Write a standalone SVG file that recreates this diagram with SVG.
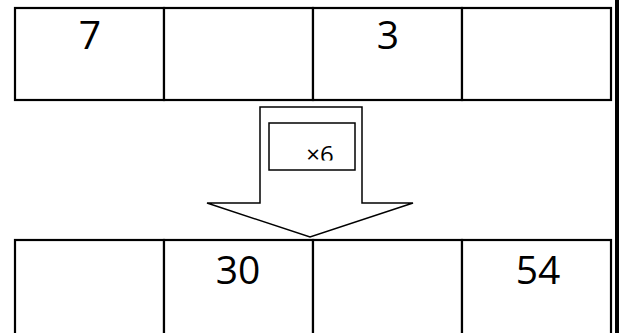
<svg xmlns="http://www.w3.org/2000/svg" width="619" height="333" viewBox="0 0 619 333">
<defs>
<style>
.cell{fill:#fff;stroke:#000;stroke-width:2.2}
.num{font-family:"Open Sans","Noto Sans",sans-serif;font-size:39px;fill:#000;text-anchor:middle}
.arr{fill:#fff;stroke:#000;stroke-width:1.5}
</style>
<clipPath id="clipx"><rect x="268" y="122" width="88" height="38.5"/></clipPath>
</defs>
<rect width="619" height="333" fill="#fff"/>
<g id="top-row">
<rect class="cell" x="15" y="8" width="149" height="92"/>
<rect class="cell" x="164" y="8" width="149" height="92"/>
<rect class="cell" x="313" y="8" width="149" height="92"/>
<rect class="cell" x="462" y="8" width="149" height="92"/>
<text class="num" x="90" y="49">7</text>
<text class="num" x="388" y="49">3</text>
</g>
<g id="arrow">
<path class="arr" d="M260,107 H362 V203 H413 L310,237 L207,203 H260 Z"/>
<rect class="arr" x="269" y="123" width="86" height="47"/>
<g clip-path="url(#clipx)">
<text x="320" y="163" font-family="Open Sans,Noto Sans,sans-serif" font-size="24" text-anchor="middle">×6</text>
</g>
</g>
<g id="bottom-row">
<rect class="cell" x="15" y="240" width="149" height="100"/>
<rect class="cell" x="164" y="240" width="149" height="100"/>
<rect class="cell" x="313" y="240" width="149" height="100"/>
<rect class="cell" x="462" y="240" width="149" height="100"/>
<text class="num" x="238" y="284">30</text>
<text class="num" x="538" y="284">54</text>
</g>
<rect x="615" y="0" width="4" height="333" fill="#000"/>
</svg>
